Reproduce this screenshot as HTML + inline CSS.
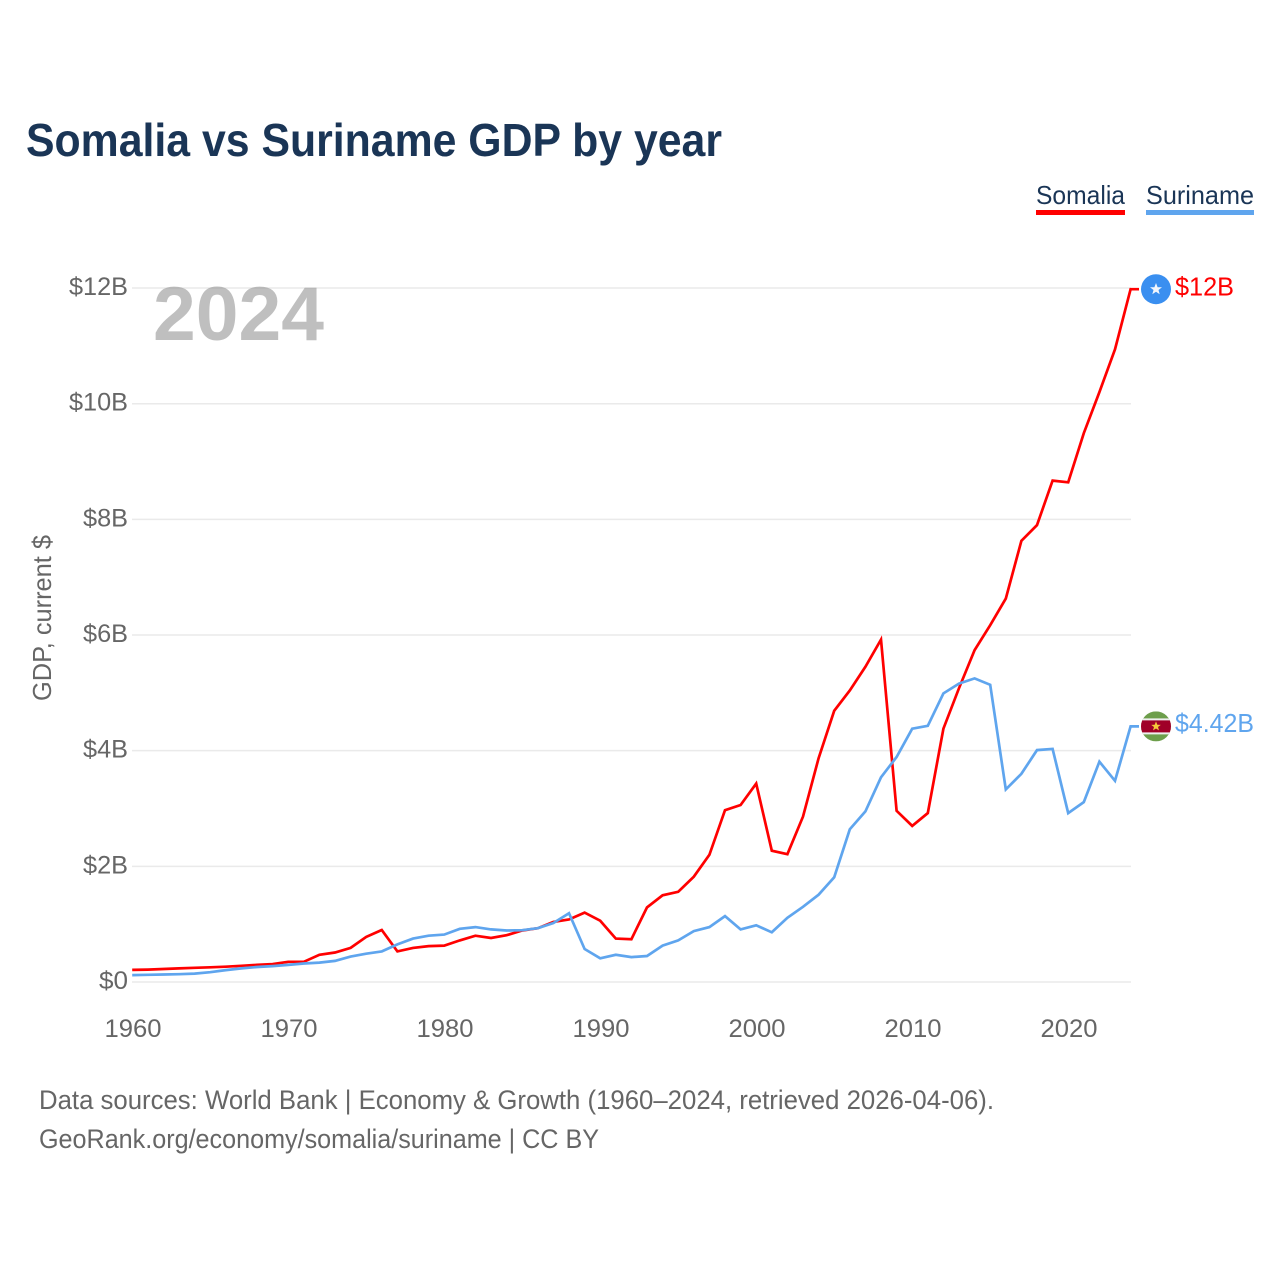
<!DOCTYPE html>
<html>
<head>
<meta charset="utf-8">
<title>Somalia vs Suriname GDP by year</title>
<style>
html,body{margin:0;padding:0;background:#fff}
svg{display:block}
text{font-family:"Liberation Sans",sans-serif}
</style>
</head>
<body>
<svg id="chart" xmlns="http://www.w3.org/2000/svg" width="1280" height="1280" viewBox="0 0 1280 1280">
  <text x="26" y="156" font-size="46" font-weight="700" fill="#1a3556" textLength="696" lengthAdjust="spacingAndGlyphs">Somalia vs Suriname GDP by year</text>

  <g>
    <text x="1036" y="204" font-size="26" fill="#1a3556" textLength="89" lengthAdjust="spacingAndGlyphs">Somalia</text>
    <rect x="1036" y="210" width="89" height="5" fill="#ff0000"/>
  </g>
  <g>
    <text x="1146" y="204" font-size="26" fill="#1a3556" textLength="108" lengthAdjust="spacingAndGlyphs">Suriname</text>
    <rect x="1146" y="210" width="108" height="5" fill="#5fa5ee"/>
  </g>

  <text transform="translate(51,701) rotate(-90)" font-size="26" fill="#666" textLength="166" lengthAdjust="spacingAndGlyphs">GDP, current $</text>

  <g id="grid"></g>
  <g id="yticks"></g>
  <g id="xticks"></g>

  <text x="153" y="340" font-size="76" font-weight="700" fill="#808080" fill-opacity="0.5" textLength="171" lengthAdjust="spacingAndGlyphs">2024</text>

  <g id="series"></g>
  <g id="ends"></g>

  <text x="39" y="1109" font-size="27" fill="#666" textLength="955" lengthAdjust="spacingAndGlyphs">Data sources: World Bank | Economy &amp; Growth (1960–2024, retrieved 2026-04-06).</text>
  <text x="39" y="1148" font-size="27" fill="#666" textLength="560" lengthAdjust="spacingAndGlyphs">GeoRank.org/economy/somalia/suriname | CC BY</text>
</svg>
<script>
const startYear = 1960;
const yTickValues = [0, 2, 4, 6, 8, 10, 12];
const yTickLabels = ["$0", "$2B", "$4B", "$6B", "$8B", "$10B", "$12B"];
const xTickValues = [1960, 1970, 1980, 1990, 2000, 2010, 2020];
const xTickLabels = ["1960", "1970", "1980", "1990", "2000", "2010", "2020"];
const somalia = [0.21,0.215,0.225,0.235,0.245,0.255,0.265,0.28,0.295,0.31,0.35,0.35,0.47,0.51,0.59,0.78,0.90,0.53,0.59,0.62,0.63,0.72,0.80,0.76,0.81,0.89,0.93,1.04,1.08,1.20,1.06,0.75,0.74,1.29,1.50,1.56,1.82,2.20,2.97,3.06,3.43,2.27,2.21,2.86,3.87,4.69,5.04,5.45,5.92,2.96,2.70,2.92,4.38,5.08,5.74,6.17,6.63,7.63,7.90,8.67,8.64,9.49,10.20,10.94,11.98];
const suriname = [0.12,0.125,0.13,0.135,0.145,0.17,0.205,0.235,0.26,0.275,0.295,0.32,0.335,0.365,0.44,0.49,0.53,0.65,0.75,0.80,0.82,0.92,0.95,0.91,0.89,0.895,0.93,1.02,1.19,0.57,0.41,0.47,0.43,0.45,0.63,0.72,0.88,0.95,1.14,0.91,0.98,0.86,1.11,1.30,1.51,1.81,2.64,2.95,3.54,3.89,4.38,4.43,4.99,5.16,5.25,5.14,3.33,3.60,4.01,4.03,2.92,3.11,3.81,3.48,4.42];
const somaliaEndLabel = "$12B";
const surinameEndLabel = "$4.42B";

const NS = "http://www.w3.org/2000/svg";
const xScale = year => 132.2 + (year - startYear) * 15.6;
const yScale = value => 982 - value * 57.83;

function make(tag, attrs, parent, text) {
  const el = document.createElementNS(NS, tag);
  for (const k in attrs) el.setAttribute(k, attrs[k]);
  if (text !== undefined) el.textContent = text;
  parent.appendChild(el);
  return el;
}

const gridG = document.getElementById("grid");
const yG = document.getElementById("yticks");
const xG = document.getElementById("xticks");
const seriesG = document.getElementById("series");
const endsG = document.getElementById("ends");

const tickWidth = s => s.length === 2 ? 29 : s.length === 3 ? 45 : 59;

yTickValues.forEach((v, i) => {
  const y = yScale(v);
  const line = make("line", {x1: 132, x2: 1131, y1: y, y2: y, stroke: "#eaeaea", "stroke-width": 1.5}, gridG);
  
  
  const label = make("text", {x: 128 - tickWidth(yTickLabels[i]), y: y + 7, "font-size": 25, fill: "#666", textLength: tickWidth(yTickLabels[i]), lengthAdjust: "spacingAndGlyphs"}, yG, yTickLabels[i]);
  
  
});

xTickValues.forEach((v, i) => {
  const label = make("text", {x: 133 + (v - startYear) * 15.6, y: 1037, "font-size": 25, fill: "#666", "text-anchor": "middle", textLength: 57, lengthAdjust: "spacingAndGlyphs"}, xG, xTickLabels[i]);
  
  
});

function drawSeries(values, color, name) {
  const pts = values.map((v, i) => xScale(startYear + i).toFixed(1) + "," + yScale(v).toFixed(1));
  const lastY = yScale(values[values.length - 1]);
  pts.push("1139," + lastY.toFixed(1));
  const line = make("polyline", {points: pts.join(" "), fill: "none", stroke: color, "stroke-width": 2.7, "stroke-linejoin": "miter"}, seriesG);
  
  
  return lastY;
}

const somY = drawSeries(somalia, "#ff0000", "line-somalia");
const surY = drawSeries(suriname, "#5fa5ee", "line-suriname");

/* Somalia end marker */
const somFlag = make("g", {transform: "translate(1156," + somY + ")"}, endsG);


make("circle", {r: 15, cx: 0, cy: 0, fill: "#3a8ff0"}, somFlag);
make("polygon", {points: "0,-6.2 1.6,-2 6,-1.9 2.5,0.8 3.7,5 0,2.6 -3.7,5 -2.5,0.8 -6,-1.9 -1.6,-2", fill: "#f2f6fc"}, somFlag);
const somLabel = make("text", {x: 1175, y: somY + 6.5, "font-size": 26, fill: "#ff0000", textLength: 59, lengthAdjust: "spacingAndGlyphs"}, endsG, somaliaEndLabel);



/* Suriname end marker */
const clip = make("clipPath", {id: "sur-clip"}, endsG);
make("circle", {r: 15, cx: 0, cy: 0}, clip);
const surFlag = make("g", {transform: "translate(1156," + surY + ")", "clip-path": "url(#sur-clip)"}, endsG);


make("rect", {x: -15, y: -15, width: 30, height: 30, fill: "#6d9e4b"}, surFlag);
make("rect", {x: -15, y: -8, width: 30, height: 16, fill: "#eeeeee"}, surFlag);
make("rect", {x: -15, y: -6, width: 30, height: 12, fill: "#a00028"}, surFlag);
make("polygon", {points: "0,-5 1.3,-1.6 4.8,-1.5 2,0.6 3,4 0,2.1 -3,4 -2,0.6 -4.8,-1.5 -1.3,-1.6", fill: "#f5c93a"}, surFlag);
const surLabel = make("text", {x: 1175, y: surY + 5.5, "font-size": 26, fill: "#5fa5ee", textLength: 79, lengthAdjust: "spacingAndGlyphs"}, endsG, surinameEndLabel);


</script>
</body>
</html>
